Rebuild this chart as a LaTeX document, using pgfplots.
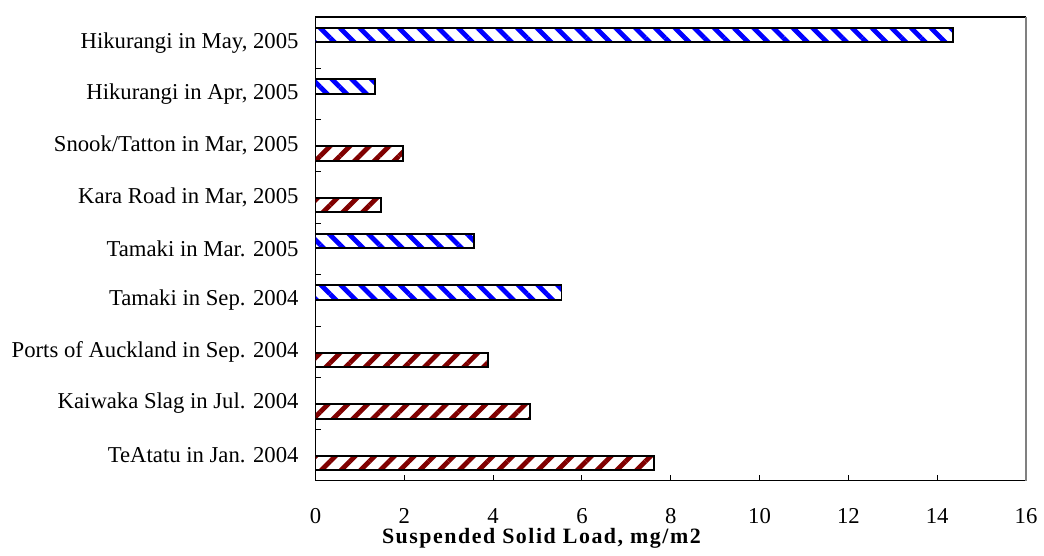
\documentclass[border=0pt]{standalone}
\usepackage{pgfplots}
\pgfplotsset{compat=1.18}
\usepackage{fontspec}
\setmainfont{Liberation Serif}
\usetikzlibrary{patterns.meta}
\definecolor{barblue}{RGB}{0,0,255}
\definecolor{barred}{RGB}{128,0,0}

\begin{document}
\begin{tikzpicture}
\begin{axis}[
    name=ax,
    scale only axis,
    width=357pt, height=233pt,
    xbar,
    xmin=0, xmax=16, ymin=-0.5, ymax=8.5,
    axis lines=left,
    axis line style={-, line width=0.8pt},
    xtick={0,2,...,16},
    ytick={0,...,8},
    yticklabels={{TeAtatu in Jan. 2004},{Kaiwaka Slag in Jul. 2004},{Ports of Auckland in Sep. 2004},
        {Tamaki in Sep. 2004},{Tamaki in Mar. 2005},{Kara Road in Mar, 2005},
        {Snook/Tatton in Mar, 2005},{Hikurangi in Apr, 2005},{Hikurangi in May, 2005}},
    minor ytick={0.5,1.5,...,7.5},
    tick align=inside,
    major tick length=3pt, minor tick length=3pt,
    tick style={black, line width=0.5pt},
    major y tick style={draw=none},
    /pgf/number format/assume math mode=true,
    ticklabel style={font=\fontsize{11.4}{13}\selectfont},
    yticklabel style={xshift=-5pt},
    xticklabel style={yshift=-10.5pt},
    xlabel={Suspended Solid Load, mg/m2},
    xlabel style={at={(axis description cs:0.318,0)}, anchor=center, yshift=-29pt,
        font=\fontsize{11}{13}\selectfont\bfseries\addfontfeature{LetterSpace=7}},
    bar width=7.3pt,
]
\addplot[bar shift=3.8pt, draw=black, line width=1pt,
    pattern={Lines[angle=-45,distance=7pt,line width=2.4pt]}, pattern color=barblue]
    coordinates {(5.54,3) (3.58,4) (1.35,7) (14.35,8)};
\addplot[bar shift=-4pt, draw=black, line width=1pt,
    pattern={Lines[angle=45,distance=7pt,line width=2.4pt]}, pattern color=barred]
    coordinates {(7.62,0) (4.82,1) (3.88,2) (1.47,5) (1.97,6)};
\end{axis}
\draw[line width=0.8pt] (ax.north west) -- (ax.north east);
\draw[gray, line width=0.8pt] (ax.north east) -- (ax.south east);
\path (ax.south west) +(-158.5pt,-33.5pt) (ax.north east) +(6.5pt,8.5pt);
\end{tikzpicture}
\end{document}
